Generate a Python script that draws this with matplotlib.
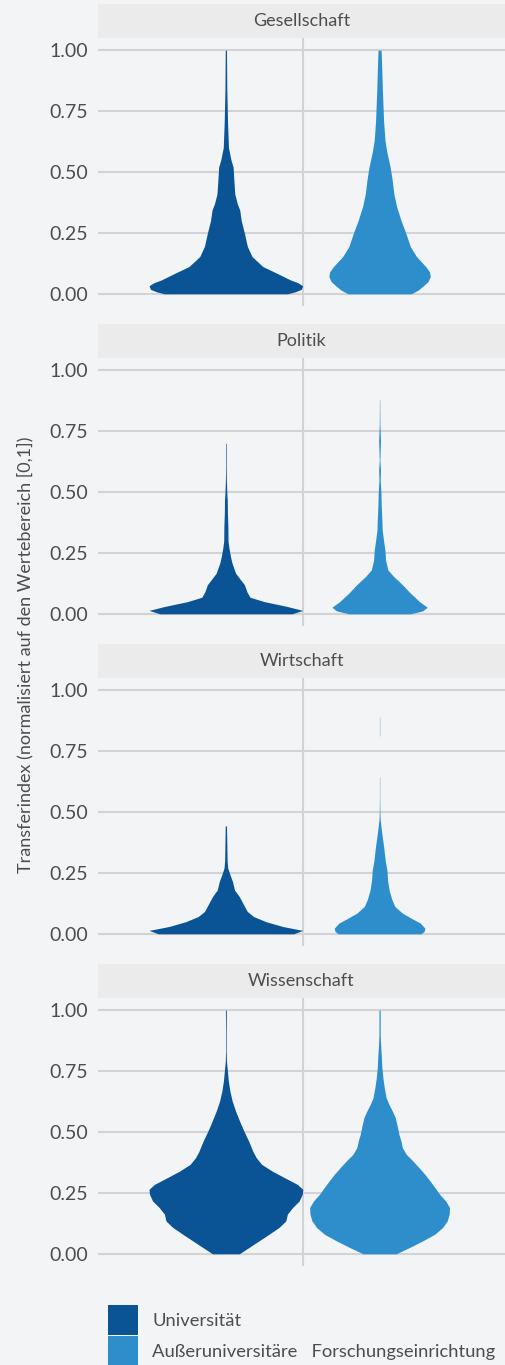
import matplotlib
matplotlib.use("Agg")
import matplotlib.pyplot as plt
from matplotlib.patches import Rectangle

plt.rcParams['font.family'] = ['Lato', 'DejaVu Sans']

# Facetten und Gruppen
facetten = ['Gesellschaft', 'Politik', 'Wirtschaft', 'Wissenschaft']
gruppen = ['Universität', 'Außeruniversitäre   Forschungseinrichtung']
farben = ['#0a5394', '#2e8ecb']

# Dichteprofile der Violinen: Transferindex (y) und halbe Breite (w)
ges_uni_y = [0.0, 0.008, 0.018, 0.033, 0.045, 0.057, 0.085, 0.112, 0.153, 0.194, 0.25,
             0.30, 0.344, 0.37, 0.41, 0.467, 0.52, 0.55, 0.60, 0.70, 0.84, 1.0]
ges_uni_w = [0.40, 0.45, 0.49, 0.50, 0.47, 0.42, 0.33, 0.24, 0.17, 0.14, 0.12,
             0.10, 0.09, 0.074, 0.058, 0.052, 0.047, 0.033, 0.017, 0.011, 0.006, 0.004]
ges_aus_y = [0.0, 0.015, 0.03, 0.05, 0.071, 0.09, 0.112, 0.153, 0.194, 0.25, 0.30,
             0.36, 0.41, 0.467, 0.52, 0.58, 0.63, 0.71, 0.84, 0.93, 1.0]
ges_aus_w = [0.206, 0.25, 0.28, 0.315, 0.33, 0.325, 0.30, 0.24, 0.20, 0.17, 0.14,
             0.11, 0.093, 0.082, 0.069, 0.048, 0.035, 0.026, 0.018, 0.014, 0.010]

pol_uni_y = [0.0, 0.014, 0.03, 0.05, 0.068, 0.09, 0.12, 0.14, 0.167, 0.21, 0.235,
             0.27, 0.30, 0.36, 0.41, 0.467, 0.49, 0.55, 0.60, 0.65, 0.70]
pol_uni_w = [0.43, 0.50, 0.40, 0.25, 0.157, 0.137, 0.12, 0.095, 0.063, 0.039, 0.030,
             0.020, 0.014, 0.013, 0.010, 0.009, 0.0065, 0.003, 0.002, 0.002, 0.002]
pol_aus_y = [0.0, 0.012, 0.027, 0.05, 0.085, 0.12, 0.153, 0.18, 0.22, 0.26, 0.30,
             0.344, 0.385, 0.44, 0.495, 0.55, 0.59, 0.63, 0.71, 0.78, 0.88]
pol_aus_w = [0.20, 0.28, 0.31, 0.26, 0.20, 0.148, 0.092, 0.054, 0.039, 0.035, 0.026,
             0.017, 0.015, 0.011, 0.009, 0.004, 0.006, 0.002, 0.006, 0.002, 0.001]

wir_uni_y = [0.0, 0.014, 0.03, 0.05, 0.071, 0.092, 0.12, 0.153, 0.18, 0.215, 0.24,
             0.27, 0.30, 0.36, 0.443]
wir_uni_w = [0.44, 0.50, 0.37, 0.26, 0.18, 0.139, 0.115, 0.087, 0.056, 0.043, 0.028,
             0.012, 0.008, 0.0065, 0.004]
wir_aus_y = [0.0, 0.01, 0.023, 0.044, 0.064, 0.085, 0.112, 0.14, 0.18, 0.22, 0.26, 0.30,
             0.36, 0.41, 0.467, 0.495, 0.56, 0.64, 0.645, 0.81, 0.815, 0.89]
wir_aus_w = [0.27, 0.29, 0.295, 0.265, 0.206, 0.148, 0.10, 0.08, 0.062, 0.052, 0.048,
             0.037, 0.026, 0.015, 0.004, 0.002, 0.001, 0.001, 0.0, 0.0, 0.001, 0.001]

wis_uni_y = [0.0, 0.026, 0.053, 0.08, 0.108, 0.135, 0.163, 0.19, 0.217, 0.245, 0.265,
             0.285, 0.313, 0.34, 0.367, 0.395, 0.42, 0.463, 0.504, 0.545, 0.586,
             0.627, 0.668, 0.709, 0.75, 0.79, 0.83, 0.91, 1.0]
wis_uni_w = [0.087, 0.15, 0.215, 0.28, 0.345, 0.39, 0.40, 0.434, 0.477, 0.497, 0.50,
             0.465, 0.38, 0.30, 0.233, 0.197, 0.176, 0.148, 0.117, 0.089, 0.063,
             0.041, 0.026, 0.016, 0.010, 0.004, 0.002, 0.002, 0.003]
wis_aus_y = [0.0, 0.026, 0.053, 0.08, 0.108, 0.135, 0.163, 0.19, 0.217, 0.245, 0.272,
             0.30, 0.326, 0.354, 0.381, 0.408, 0.436, 0.463, 0.49, 0.518, 0.559,
             0.586, 0.613, 0.64, 0.68, 0.72, 0.764, 0.818, 0.86, 0.90, 1.0]
wis_aus_w = [0.108, 0.195, 0.28, 0.358, 0.41, 0.44, 0.453, 0.455, 0.43, 0.39, 0.36,
             0.327, 0.295, 0.256, 0.217, 0.174, 0.148, 0.139, 0.126, 0.117, 0.102,
             0.083, 0.061, 0.043, 0.031, 0.022, 0.015, 0.011, 0.0065, 0.004, 0.004]

violinen = {
    'Gesellschaft': [(ges_uni_y, ges_uni_w), (ges_aus_y, ges_aus_w)],
    'Politik': [(pol_uni_y, pol_uni_w), (pol_aus_y, pol_aus_w)],
    'Wirtschaft': [(wir_uni_y, wir_uni_w), (wir_aus_y, wir_aus_w)],
    'Wissenschaft': [(wis_uni_y, wis_uni_w), (wis_aus_y, wis_aus_w)],
}

y_ticks = [0.0, 0.25, 0.5, 0.75, 1.0]

hintergrund = '#f3f4f6'
streifen = '#ebebec'
gitter = '#d3d3d6'
textfarbe = '#4d4d4d'

W, H = 505, 1365
fig = plt.figure(figsize=(W / 100, H / 100), dpi=100, facecolor=hintergrund)

for i, name in enumerate(facetten):
    off = 320 * i
    # Panel
    ax = fig.add_axes([98 / W, 1 - (306 + off) / H, 407 / W, 268 / H])
    ax.set_facecolor(hintergrund)
    for s in ax.spines.values():
        s.set_visible(False)
    ax.set_xlim(0.168, 2.816)
    ax.set_ylim(-0.05, 1.05)
    ax.set_yticks(y_ticks)
    ax.set_yticklabels([f'{t:.2f}' for t in y_ticks])
    ax.set_xticks([])
    ax.tick_params(axis='y', length=0, pad=7, labelsize=14, labelcolor=textfarbe)
    for t in y_ticks:
        ax.axhline(t, color=gitter, lw=1.5, zorder=0)
    ax.axvline(1.5, color=gitter, lw=1.5, zorder=0)

    for k, (ys, ws) in enumerate(violinen[name]):
        x0 = k + 1
        ax.fill_betweenx(ys, [x0 - w for w in ws], [x0 + w for w in ws],
                         color=farben[k], lw=0, zorder=2)

    # Facettenstreifen
    sax = fig.add_axes([98 / W, 1 - (38 + off) / H, 407 / W, 34 / H])
    sax.set_facecolor(streifen)
    sax.set_xticks([])
    sax.set_yticks([])
    for s in sax.spines.values():
        s.set_visible(False)
    sax.text(0.5, 0.5, name, ha='center', va='center', fontsize=13,
             color=textfarbe, transform=sax.transAxes)

fig.text(25 / W, 1 - 655 / H, 'Transferindex (normalisiert auf den Wertebereich [0,1])',
         rotation=90, ha='center', va='center', fontsize=13, color=textfarbe)

# Legende
for k, g in enumerate(gruppen):
    top = 1305 + 31 * k
    fig.patches.append(Rectangle((108 / W, 1 - (top + 30) / H), 30 / W, 30 / H,
                                 transform=fig.transFigure, color=farben[k], lw=0))
    fig.text(152 / W, 1 - (top + 16) / H, g, ha='left', va='center', fontsize=13.2,
             color=textfarbe)

fig.savefig('out.png', dpi=100, facecolor=hintergrund)
